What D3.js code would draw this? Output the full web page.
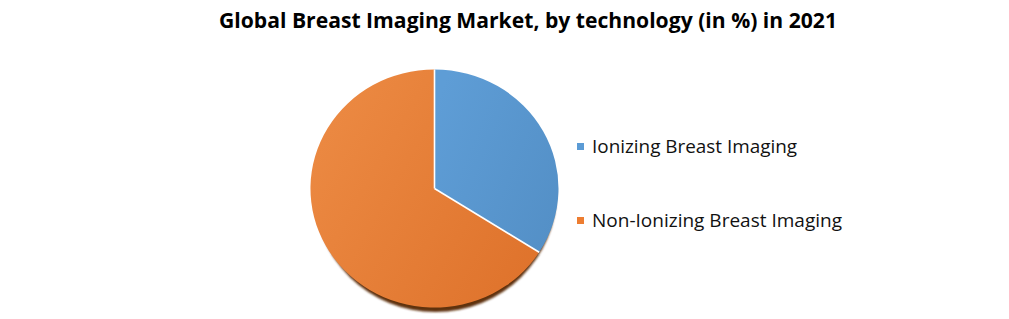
<!DOCTYPE html>
<html>
<head>
<meta charset="utf-8">
<script src="https://cdn.jsdelivr.net/npm/d3@7"></script>
<style>
  body { margin: 0; background: #fff; }
  svg { display: block; }
</style>
</head>
<body>
<svg id="chart" width="1009" height="319"></svg>
<script>
// chart data
const categories = ["Ionizing Breast Imaging", "Non-Ionizing Breast Imaging"];
const shares = [34, 66];
const colors = ["#5b9bd5", "#ed7d31"];
const titleText = "Global Breast Imaging Market, by technology (in %) in 2021";

const svg = d3.select("#chart");
const defs = svg.append("defs");

// subtle gradients like the office chart fill
const gradStops = [["#5e9dd6", "#5490c7"], ["#ec8a43", "#df732c"]];
gradStops.forEach((s, i) => {
    const g = defs.append("linearGradient")
        .attr("id", "grad" + i)
        .attr("x1", "0%").attr("y1", "20%")
        .attr("x2", "100%").attr("y2", "80%");
    g.append("stop").attr("offset", "0%").attr("stop-color", s[0]);
    g.append("stop").attr("offset", "100%").attr("stop-color", s[1]);
});

const blur = defs.append("filter").attr("id", "shadow")
    .attr("x", "-20%").attr("y", "-20%").attr("width", "140%").attr("height", "140%");
blur.append("feGaussianBlur").attr("stdDeviation", 1.2);

// title
svg.append("text")
    .attr("x", 528)
    .attr("y", 28)
    .attr("text-anchor", "middle")
    .attr("font-family", "'Open Sans', sans-serif")
    .attr("font-weight", "bold")
    .attr("font-size", "21px")
    .attr("textLength", 618)
    .attr("lengthAdjust", "spacingAndGlyphs")
    .attr("fill", "#000")
    .text(titleText);

// pie
const cx = 434.5, cy = 188.5, rx = 124, ry = 119;
const pie = d3.pie().sort(null).value(d => d);
const arcs = pie(shares);
const arc = d3.arc().innerRadius(0).outerRadius(1);

// shadow below the bottom edge
svg.append("ellipse")
    .attr("cx", cx + 1)
    .attr("cy", cy + 4.5)
    .attr("rx", rx - 3)
    .attr("ry", ry)
    .attr("fill", "#5e3010")
    .attr("filter", "url(#shadow)");

const pg = svg.append("g")
    .attr("transform", `translate(${cx},${cy}) scale(${rx},${ry})`);

pg.selectAll("path")
    .data(arcs)
    .enter()
    .append("path")
    .attr("d", arc)
    .attr("fill", (d, i) => `url(#grad${i})`);

// white separators between slices
pg.selectAll("line")
    .data(arcs)
    .enter()
    .append("line")
    .attr("x1", 0)
    .attr("y1", 0)
    .attr("x2", d => Math.sin(d.startAngle))
    .attr("y2", d => -Math.cos(d.startAngle))
    .attr("stroke", "#fff")
    .attr("stroke-width", 1.6)
    .attr("vector-effect", "non-scaling-stroke");

// legend
const legendY = [146.5, 220.5];
const lg = svg.append("g");
categories.forEach((c, i) => {
    lg.append("rect")
        .attr("x", 577)
        .attr("y", legendY[i] - 3.5)
        .attr("width", 7)
        .attr("height", 7)
        .attr("fill", colors[i]);
    lg.append("text")
        .attr("x", 592)
        .attr("y", legendY[i] + 6)
        .attr("font-family", "'Open Sans', sans-serif")
        .attr("font-size", "18.5px")
        .attr("textLength", i === 0 ? 205 : 250)
        .attr("lengthAdjust", "spacingAndGlyphs")
        .attr("fill", "#111")
        .text(c);
});
</script>
</body>
</html>
